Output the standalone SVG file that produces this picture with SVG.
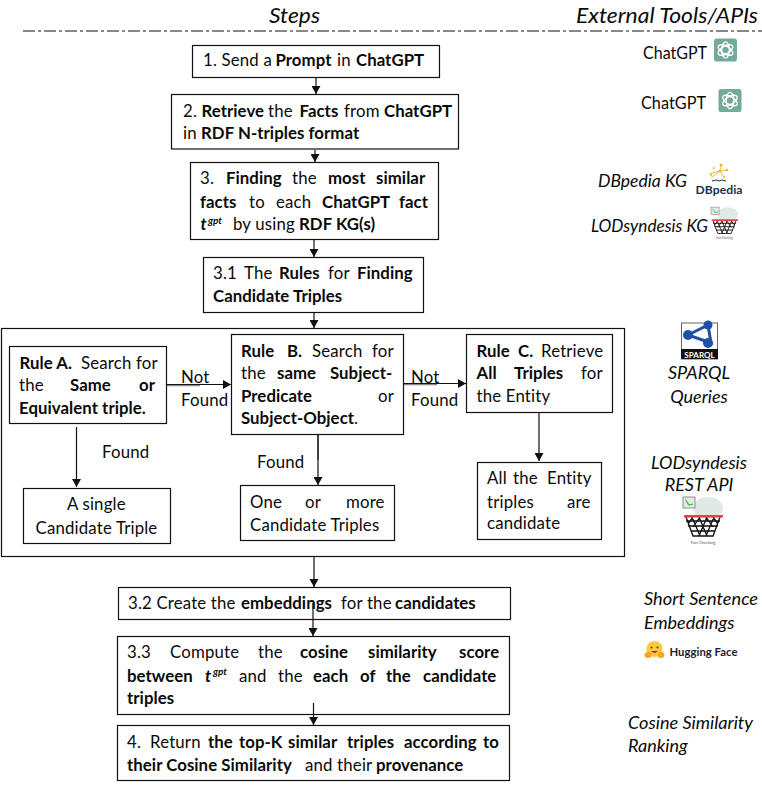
<svg xmlns="http://www.w3.org/2000/svg" width="762" height="786" viewBox="0 0 762 786">
<style>
text{font-family:Lato,"Open Sans","Liberation Sans",sans-serif;font-size:16.800px;letter-spacing:.18px;fill:#0a0a0a;transform:translateY(.7px)}
.b{font-weight:700;letter-spacing:.05px}
.i{font-style:italic}
.h{font-size:21.500px;font-style:italic;letter-spacing:0}
.r{font-size:18px;letter-spacing:0}
.s{font-size:10px;font-style:italic;font-weight:700;letter-spacing:0}
.box{fill:#fff;stroke:#111;stroke-width:1.2}
.c{fill:none;stroke:#111;stroke-width:1.2;marker-end:url(#a)}
.g{fill:none;stroke:#888}
.net{fill:none;stroke:#111;stroke-width:1.300}
</style>
<defs>
<marker id="a" markerUnits="userSpaceOnUse" markerWidth="9" markerHeight="9" refX="8" refY="4.5" orient="auto"><path d="M0 0L8 4.500L0 9z" fill="#111"/></marker>
<symbol id="gpt" viewBox="0 0 24 24" overflow="visible">
<rect width="24" height="24" rx="3" fill="#74aa9c"/>
<g fill="none" stroke="#fff" stroke-width="1.400"><ellipse cx="12" cy="12" rx="4" ry="8.500"/><ellipse cx="12" cy="12" rx="4" ry="8.500" transform="rotate(60 12 12)"/><ellipse cx="12" cy="12" rx="4" ry="8.500" transform="rotate(120 12 12)"/></g>
</symbol>
<symbol id="basket" viewBox="0 0 40 50" overflow="visible">
<ellipse cx="25" cy="11" rx="15" ry="11" fill="#dfe9e6"/>
<rect x="0" y="0" width="12" height="11" fill="#e8e8e8" stroke="#777" stroke-width=".8"/>
<path d="M2.500 2.500L6 8L10 7" fill="none" stroke="#2c2" stroke-width="1.200"/>
<g class="net"><path d="M3 20L10 39H30L37 20M9 20L17 39M16 20L24 39M23 20L30 30M31 20L23 39M24 20L16 39M17 20L10 30M10 20L5 27M30 20L35 27M3 24L37 24M5 29L35 29M8 34L32 34"/></g>
<rect x="1" y="18" width="39" height="2.500" fill="#e8403c"/>
<text x="20" y="46" text-anchor="middle" style="font-size:4px;fill:#555;letter-spacing:0">Fact Checking</text>
</symbol>
</defs>
<rect width="762" height="786" fill="#fff"/>
<g id="header">
<text class="h" x="269" y="22" textLength="51" lengthAdjust="spacingAndGlyphs">Steps</text>
<text class="h" x="576" y="22" textLength="182" lengthAdjust="spacingAndGlyphs">External Tools/APIs</text>
<path d="M23 31H762" stroke="#111" stroke-width="1" stroke-dasharray="12 3 3 3" fill="none"/>
</g>
<g id="outer"><rect class="box" x="1.500" y="328.500" width="623" height="228"/></g>
<g id="n1"><rect class="box" x="192.500" y="45.500" width="247" height="32"/>
<text y="65"><tspan x="203">1. Send a</tspan><tspan x="275.500" class="b">Prompt</tspan><tspan x="337">in</tspan><tspan x="356" class="b">ChatGPT</tspan></text></g>
<g id="n2"><rect class="box" x="171.500" y="94.500" width="287" height="54.500"/>
<text y="116"><tspan x="183">2.</tspan><tspan x="201.500" class="b">Retrieve</tspan><tspan x="268">the</tspan><tspan x="299.500" class="b">Facts</tspan><tspan x="344">from</tspan><tspan x="384" class="b">ChatGPT</tspan></text>
<text y="138"><tspan x="183">in</tspan><tspan x="201" class="b">RDF N-triples format</tspan></text></g>
<g id="n3"><rect class="box" x="190.500" y="162.500" width="248" height="77"/>
<text y="183"><tspan x="200">3.</tspan><tspan x="226" class="b">Finding</tspan><tspan x="292">the</tspan><tspan x="328" class="b">most</tspan><tspan x="376" class="b">similar</tspan></text>
<text y="207"><tspan x="200" class="b">facts</tspan><tspan x="249">to</tspan><tspan x="276">each</tspan><tspan x="322" class="b">ChatGPT</tspan><tspan x="399" class="b">fact</tspan></text>
<text y="229"><tspan x="200.500" class="b i">t</tspan><tspan x="208" y="223" class="s">gpt</tspan><tspan x="233" y="229">by using</tspan><tspan x="299" class="b">RDF KG(s)</tspan></text></g>
<g id="n31"><rect class="box" x="203.500" y="257.500" width="220" height="55"/>
<text y="278"><tspan x="213">3.1</tspan><tspan x="244">The</tspan><tspan x="279" class="b">Rules</tspan><tspan x="328">for</tspan><tspan x="357" class="b">Finding</tspan></text>
<text y="301" x="213" class="b">Candidate Triples</text></g>
<g id="ruleA"><rect class="box" x="9.500" y="346.500" width="157" height="77"/>
<text y="368"><tspan x="19.500" class="b">Rule A.</tspan><tspan x="81">Search for</tspan></text>
<text y="390"><tspan x="19">the</tspan><tspan x="70" class="b">Same</tspan><tspan x="139" class="b">or</tspan></text>
<text y="413" x="19" class="b">Equivalent triple.</text></g>
<g id="ruleB"><rect class="box" x="231.500" y="334.500" width="172" height="100"/>
<text y="356"><tspan x="241" class="b">Rule</tspan><tspan x="287" class="b">B.</tspan><tspan x="312">Search</tspan><tspan x="372">for</tspan></text>
<text y="378"><tspan x="241">the</tspan><tspan x="277" class="b">same</tspan><tspan x="330" class="b">Subject-</tspan></text>
<text y="401"><tspan x="241" class="b">Predicate</tspan><tspan x="378">or</tspan></text>
<text y="423"><tspan x="241" class="b">Subject-Object</tspan><tspan>.</tspan></text></g>
<g id="ruleC"><rect class="box" x="466.500" y="334.500" width="146" height="78"/>
<text y="356"><tspan x="476.500" class="b">Rule</tspan><tspan x="518" class="b">C.</tspan><tspan x="541">Retrieve</tspan></text>
<text y="378"><tspan x="476.500" class="b">All</tspan><tspan x="514" class="b">Triples</tspan><tspan x="581">for</tspan></text>
<text y="401" x="476.500">the Entity</text></g>
<g id="cA"><rect class="box" x="23.500" y="488.500" width="147" height="55"/>
<text y="509" x="67">A single</text><text y="533" x="35.500">Candidate Triple</text></g>
<g id="cB"><rect class="box" x="240.500" y="485.500" width="154" height="55"/>
<text y="507"><tspan x="250">One</tspan><tspan x="305">or</tspan><tspan x="346">more</tspan></text>
<text y="530" x="250">Candidate Triples</text></g>
<g id="cC"><rect class="box" x="477.500" y="462.500" width="124" height="77"/>
<text y="483"><tspan x="487">All</tspan><tspan x="513">the</tspan><tspan x="547">Entity</tspan></text>
<text y="507"><tspan x="487">triples</tspan><tspan x="567">are</tspan></text>
<text y="528" x="487">candidate</text></g>
<g id="n32"><rect class="box" x="118.500" y="587.500" width="392" height="32"/>
<text y="608"><tspan x="128">3.2 Create the</tspan><tspan x="241" class="b">embeddings</tspan><tspan x="341">for the</tspan><tspan x="395" class="b">candidates</tspan></text></g>
<g id="n33"><rect class="box" x="117.500" y="636.500" width="392" height="78"/>
<text y="657"><tspan x="127">3.3</tspan><tspan x="170">Compute</tspan><tspan x="258">the</tspan><tspan x="300" class="b">cosine</tspan><tspan x="368" class="b">similarity</tspan><tspan x="459" class="b">score</tspan></text>
<text y="681"><tspan x="127" class="b">between</tspan><tspan x="205" class="b i">t</tspan><tspan x="213" y="674" class="s">gpt</tspan><tspan x="239" y="681">and</tspan><tspan x="278">the</tspan><tspan x="313" class="b">each</tspan><tspan x="360" class="b">of</tspan><tspan x="386" class="b">the</tspan><tspan x="423" class="b">candidate</tspan></text>
<text y="703" x="127" class="b">triples</text></g>
<g id="n4"><rect class="box" x="117.500" y="725.500" width="392" height="55"/>
<text y="747"><tspan x="127">4.</tspan><tspan x="150">Return</tspan><tspan x="208" class="b">the</tspan><tspan x="239" class="b">top-K</tspan><tspan x="288" class="b">similar</tspan><tspan x="347" class="b">triples</tspan><tspan x="404" class="b">according</tspan><tspan x="483" class="b">to</tspan></text>
<text y="770"><tspan x="127" class="b">their Cosine Similarity</tspan><tspan x="305">and their</tspan><tspan x="376" class="b">provenance</tspan></text></g>
<g id="connectors">
<path class="c" d="M316 78V94"/>
<path class="c" d="M315 150V162"/>
<path class="c" d="M314 240V257"/>
<path class="c" d="M314 313V328"/>
<path class="g" d="M167 385.500H200" stroke-width="1.500"/>
<path class="c" d="M167 384.500H231"/>
<path class="g" d="M404 384.500H437" stroke-width="1.500"/>
<path class="c" d="M404 383.500H466"/>
<path class="c" d="M76.500 427V487"/>
<path class="g" d="M318 435V460" stroke-width="2"/>
<path class="c" d="M318 435V485"/>
<path class="c" d="M539 413V461"/>
<path class="c" d="M314 557V587"/>
<path class="c" d="M313 603V636"/>
<path class="c" d="M313.500 703V725"/>
</g>
<g id="label-notfound1"><text x="181" y="382">Not</text><text x="181" y="405">Found</text></g>
<g id="label-notfound2"><text x="411" y="382">Not</text><text x="411" y="405">Found</text></g>
<g id="label-found1"><text x="102" y="457">Found</text></g>
<g id="label-found2"><text x="257" y="467">Found</text></g>
<g id="tool-chatgpt1"><text class="r" x="643" y="58" textLength="64" lengthAdjust="spacingAndGlyphs">ChatGPT</text><use href="#gpt" x="714" y="38" width="23" height="24"/></g>
<g id="tool-chatgpt2"><text class="r" x="641" y="108" textLength="65" lengthAdjust="spacingAndGlyphs">ChatGPT</text><use href="#gpt" x="718" y="89" width="24" height="23"/></g>
<g id="tool-dbpedia"><text class="r i" x="598" y="186" textLength="89" lengthAdjust="spacingAndGlyphs">DBpedia KG</text>
<path d="M709 174L720 171L727 170M711 178L720 171L724 177M720 171L721 165" fill="none" stroke="#f0b429" stroke-width=".9"/>
<g fill="#f0b429"><circle cx="721" cy="165" r="1.500"/><circle cx="727" cy="170" r="1.300"/><circle cx="714" cy="168" r="1"/><circle cx="720" cy="171" r="1.300"/><circle cx="711" cy="175" r="1"/><circle cx="724" cy="177" r="1"/></g>
<path d="M712 181Q717 179 719 181Q721 179 726 181" fill="none" stroke="#1c2f50" stroke-width="1"/>
<text x="695.500" y="193" class="b" textLength="47" lengthAdjust="spacingAndGlyphs" style="font-size:12px;fill:#1c2f50">DBpedia</text></g>
<g id="tool-lodsyndesis"><text class="r i" x="591" y="231" textLength="117" lengthAdjust="spacingAndGlyphs">LODsyndesis KG</text><use href="#basket" x="711" y="207" width="27" height="34"/></g>
<g id="tool-sparql">
<rect x="681.500" y="323" width="36" height="36" fill="#fff" stroke="#666" stroke-width="1"/>
<rect x="681" y="349" width="37" height="10" fill="#111"/>
<path d="M688 335L708 325L711 343Z" fill="none" stroke="#1f4fa8" stroke-width="3"/>
<g fill="#1f4fa8"><circle cx="688" cy="335" r="5"/><circle cx="708" cy="325" r="4.500"/><circle cx="708" cy="343" r="5"/></g>
<text x="699.500" y="357" text-anchor="middle" class="b" style="font-size:8px;fill:#fff">SPARQL</text>
<text class="r i" x="699" y="378" text-anchor="middle">SPARQL</text><text class="r i" x="699" y="402" text-anchor="middle">Queries</text></g>
<g id="tool-rest"><text class="r i" x="699" y="468" text-anchor="middle">LODsyndesis</text><text class="r i" x="699" y="490" text-anchor="middle">REST API</text><use href="#basket" x="683" y="497" width="40" height="50"/></g>
<g id="tool-hf"><text class="r i" x="644" y="604" textLength="114" lengthAdjust="spacingAndGlyphs">Short Sentence</text><text class="r i" x="644" y="628">Embeddings</text>
<circle cx="654.500" cy="649" r="8" fill="#ffc83d"/><ellipse cx="648" cy="655" rx="3.500" ry="3" fill="#f5a623"/><ellipse cx="661" cy="655" rx="3.500" ry="3" fill="#f5a623"/>
<circle cx="651.500" cy="647.500" r="1" fill="#3a3b45"/><circle cx="657.500" cy="647.500" r="1" fill="#3a3b45"/><path d="M651 651Q654.500 655 658 651Z" fill="#a0303a"/>
<text x="669.500" y="655" class="b" textLength="68" lengthAdjust="spacingAndGlyphs" style="font-size:11px;fill:#1c2030">Hugging Face</text></g>
<g id="tool-cosine"><text class="r i" x="628" y="728" textLength="125" lengthAdjust="spacingAndGlyphs">Cosine Similarity</text><text class="r i" x="628" y="751">Ranking</text></g>
</svg>
